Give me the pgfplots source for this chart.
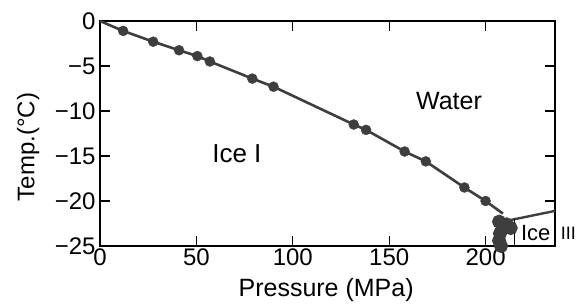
\documentclass[border=0pt]{standalone}
\usepackage{pgfplots}
\pgfplotsset{compat=1.18}
\usepackage{fontspec}
\setmainfont{Liberation Sans}
\definecolor{pt}{HTML}{3E3E3E}
\begin{document}
\begin{tikzpicture}[x=1pt,y=1pt]
\path[use as bounding box] (-100,-60) rectangle (478,246);
\begin{axis}[
  at={(0,0)}, anchor=south west,
  width=455pt, height=225pt, scale only axis,
  xmin=0, xmax=236, ymin=-25, ymax=0,
  xtick={0,50,100,150,200},
  xticklabels={0,50,100,150,200},
  ytick={-25,-20,-15,-10,-5,0},
  yticklabels={−25,−20,−15,−10,−5,0},
  tick align=inside, major tick length=10pt,
  axis line style={line width=1.5pt},
  every tick/.style={black, line width=1.3pt},
  x tick label style={font=\fontsize{24}{26}\selectfont, yshift=-2pt, inner sep=1pt},
  y tick label style={font=\fontsize{24}{26}\selectfont, xshift=-1pt},
  xlabel={Pressure (MPa)}, ylabel={Temp.(°C)},
  every axis x label/.style={at={(axis description cs:0.497,-0.195)}, anchor=center, inner sep=1pt, font=\fontsize{25}{27}\selectfont},
  every axis y label/.style={at={(axis description cs:-0.158,0.44)}, rotate=90, anchor=center, font=\fontsize{24}{26}\selectfont},
  clip=false,
]
% Ice I / water melting curve
\addplot[pt, line width=2.6pt] coordinates {
 (0,0) (12,-1.1) (27.6,-2.3) (41,-3.25) (50.5,-3.9) (57,-4.5) (79,-6.4) (90,-7.3)
 (131.6,-11.5) (138,-12.1) (158,-14.5) (169,-15.6) (189,-18.5) (200,-20.0) (209,-21.4)};
\addplot[only marks, mark=*, mark size=5pt, pt, mark options={fill=pt, draw=pt}] coordinates {
 (12,-1.1) (27.6,-2.3) (41,-3.25) (50.5,-3.9) (57,-4.5) (79,-6.4) (90,-7.3)
 (131.6,-11.5) (138,-12.1) (158,-14.5) (169,-15.6) (189,-18.5) (200,-20.0)};
% Ice I / Ice III boundary points
\addplot[pt, line width=4pt, mark=*, mark size=5pt, mark options={fill=pt, draw=pt}] coordinates {
 (207,-22.3) (211,-22.6) (213,-23.0) (207.5,-23.6) (207,-24.4) (208,-25)};
% Ice III / water boundary
\addplot[pt, line width=2.4pt] coordinates {(211,-22.2) (236,-21.1)};
\addplot[black, line width=1.5pt] coordinates {(215,-22.0) (215,-25)};
\node[font=\fontsize{25}{27}\selectfont] at (axis cs:181,-8.85) {Water};
\node[font=\fontsize{26}{28}\selectfont] at (axis cs:71,-14.7) {Ice I};
\node[font=\fontsize{22}{24}\selectfont] at (axis cs:226,-23.6) {Ice};
\node[font=\fontsize{18}{20}\selectfont, anchor=west, inner sep=0pt] at (axis cs:239,-23.6) {III};
\end{axis}
\end{tikzpicture}
\end{document}
